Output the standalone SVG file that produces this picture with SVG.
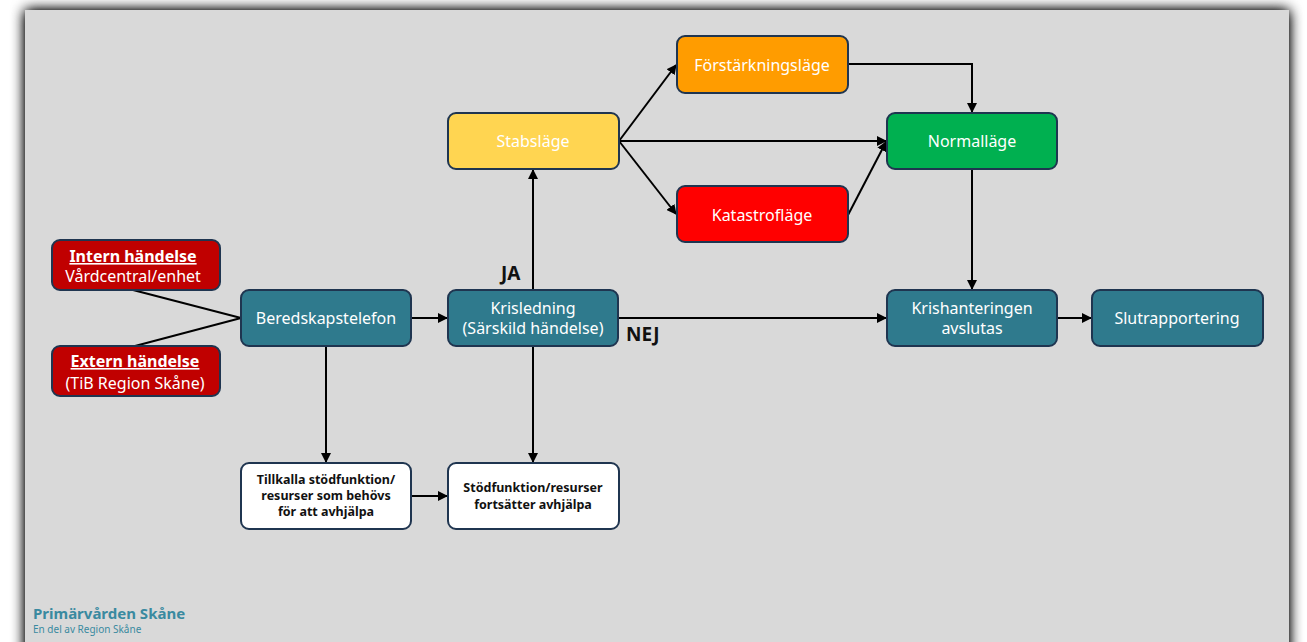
<svg xmlns="http://www.w3.org/2000/svg" width="1307" height="642" viewBox="0 0 1307 642">
<defs>
<filter id="sh" x="-5%" y="-5%" width="110%" height="115%">
<feGaussianBlur in="SourceAlpha" stdDeviation="7"/>
<feComponentTransfer><feFuncA type="linear" slope="1.4"/></feComponentTransfer>
<feMerge><feMergeNode/><feMergeNode in="SourceGraphic"/></feMerge>
</filter>
<marker id="ah" viewBox="0 0 10 10" refX="9" refY="5" markerWidth="5" markerHeight="5" orient="auto" markerUnits="strokeWidth">
<path d="M0,0 L10,5 L0,10 z" fill="#000"/>
</marker>
<style>
.n rect{stroke:#1f3550;stroke-width:2}
.t{font-family:"Noto Sans","Liberation Sans",sans-serif;font-size:16px;fill:#fff;text-anchor:middle}
.b{font-family:"Noto Sans","Liberation Sans",sans-serif;font-size:12.5px;font-weight:bold;fill:#111;text-anchor:middle}
.h{font-weight:bold;text-decoration:underline}
.c path,.c line{stroke:#000;stroke-width:2;fill:none}
.lbl{font-family:"Noto Sans","Liberation Sans",sans-serif;font-size:19px;font-weight:bold;fill:#111}
</style>
</defs>
<rect width="1307" height="642" fill="#fff"/>
<rect x="25" y="10" width="1264" height="650" fill="#d9d9d9" filter="url(#sh)"/>

<g class="c" id="connectors">
<line x1="133" y1="290" x2="241" y2="318"/>
<line x1="135" y1="346" x2="241" y2="318"/>
<line x1="411" y1="318" x2="447" y2="318" marker-end="url(#ah)"/>
<line x1="326" y1="346" x2="326" y2="462" marker-end="url(#ah)"/>
<line x1="411" y1="496" x2="447" y2="496" marker-end="url(#ah)"/>
<line x1="533" y1="346" x2="533" y2="462" marker-end="url(#ah)"/>
<line x1="533" y1="290" x2="533" y2="170" marker-end="url(#ah)"/>
<line x1="618" y1="318" x2="886" y2="318" marker-end="url(#ah)"/>
<line x1="619" y1="141" x2="676" y2="65" marker-end="url(#ah)"/>
<line x1="619" y1="141" x2="886" y2="141" marker-end="url(#ah)"/>
<line x1="619" y1="141" x2="676" y2="214" marker-end="url(#ah)"/>
<path d="M848,64 H972 V112" marker-end="url(#ah)"/>
<line x1="848" y1="215" x2="886" y2="142" marker-end="url(#ah)"/>
<line x1="972" y1="169" x2="972" y2="289" marker-end="url(#ah)"/>
<line x1="1057" y1="318" x2="1091" y2="318" marker-end="url(#ah)"/>
</g>
<text class="lbl" x="501" y="280">JA</text>
<text class="lbl" x="626" y="341">NEJ</text>

<g class="n" id="intern"><rect x="52" y="240" width="168" height="50" rx="8" fill="#c00000"/>
<text class="t" x="133" y="262"><tspan class="h">Intern händelse</tspan></text><text class="t" x="133" y="282">Vårdcentral/enhet</text></g>
<g class="n" id="extern"><rect x="52" y="346" width="168" height="50" rx="8" fill="#c00000"/>
<text class="t" x="135" y="367"><tspan class="h">Extern händelse</tspan></text><text class="t" x="135" y="389">(TiB Region Skåne)</text></g>
<g class="n" id="beredskap"><rect x="241" y="290" width="170" height="56" rx="8" fill="#2f7a8d"/>
<text class="t" x="326" y="324">Beredskapstelefon</text></g>
<g class="n" id="krisledning"><rect x="448" y="290" width="170" height="56" rx="8" fill="#2f7a8d"/>
<text class="t" x="533" y="314">Krisledning</text><text class="t" x="533" y="334">(Särskild händelse)</text></g>
<g class="n" id="stabslage"><rect x="448" y="113" width="171" height="56" rx="8" fill="#ffd551"/>
<text class="t" x="533" y="147">Stabsläge</text></g>
<g class="n" id="forstarkning"><rect x="677" y="36" width="171" height="57" rx="8" fill="#ff9c00"/>
<text class="t" x="762" y="71">Förstärkningsläge</text></g>
<g class="n" id="katastrof"><rect x="677" y="186" width="171" height="56" rx="8" fill="#ff0000"/>
<text class="t" x="762" y="221">Katastrofläge</text></g>
<g class="n" id="normal"><rect x="887" y="113" width="170" height="56" rx="8" fill="#00b050"/>
<text class="t" x="972" y="147">Normalläge</text></g>
<g class="n" id="krishantering"><rect x="887" y="290" width="170" height="56" rx="8" fill="#2f7a8d"/>
<text class="t" x="972" y="314">Krishanteringen</text><text class="t" x="972" y="334">avslutas</text></g>
<g class="n" id="slutrapport"><rect x="1092" y="290" width="171" height="56" rx="8" fill="#2f7a8d"/>
<text class="t" x="1177" y="324">Slutrapportering</text></g>
<g class="n" id="tillkalla"><rect x="241" y="463" width="170" height="66" rx="8" fill="#fff"/>
<text class="b" x="326" y="484">Tillkalla stödfunktion/</text><text class="b" x="326" y="500">resurser som behövs</text><text class="b" x="326" y="516">för att avhjälpa</text></g>
<g class="n" id="stodfunktion"><rect x="448" y="463" width="171" height="66" rx="8" fill="#fff"/>
<text class="b" x="533" y="492">Stödfunktion/resurser</text><text class="b" x="533" y="509">fortsätter avhjälpa</text></g>

<text x="33" y="619" font-family="Noto Sans, Liberation Sans, sans-serif" font-size="15" font-weight="bold" fill="#3a8aa0">Primärvården Skåne</text>
<text x="33" y="633" font-family="Noto Sans, Liberation Sans, sans-serif" font-size="10" fill="#3a8aa0">En del av Region Skåne</text>
</svg>
